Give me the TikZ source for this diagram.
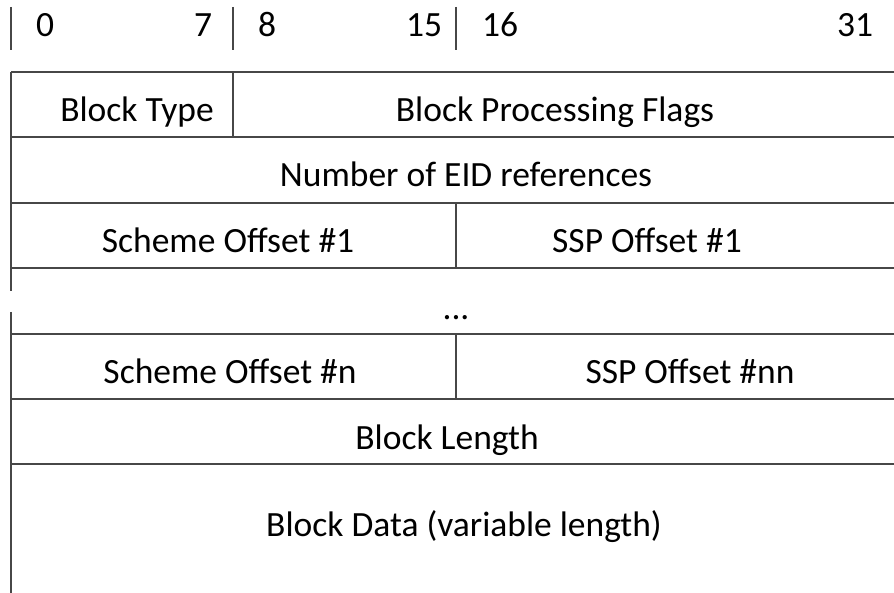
\documentclass[tikz,border=0pt]{standalone}
\usepackage{fontspec}
\setmainfont{Carlito}
\begin{document}
\begin{tikzpicture}[x=1pt,y=-1pt,
  rule/.style={draw=black!72,line width=1.4pt},
  lbl/.style={anchor=base,inner sep=0pt,font=\fontsize{35.5}{42}\selectfont}]
\useasboundingbox (0,0) rectangle (894,593);
% header ticks
\draw[rule] (11,7) -- (11,50);
\draw[rule] (233,7) -- (233,50);
\draw[rule] (456,7) -- (456,50);
\node[lbl] (b0) at (45,37) {0};
\node[lbl] (b7) at (203,37) {7};
\node[lbl] (b8) at (267,37) {8};
\node[lbl] (b15) at (424,37) {15};
\node[lbl] (b16) at (500,37) {16};
\node[lbl] (b31) at (855,37) {31};
% horizontal rules
\foreach \y in {72,137,203,268,334,399,464}
  \draw[rule] (11,\y) -- (894,\y);
% left border with gap
\draw[rule] (11,72) -- (11,291);
\draw[rule] (11,312) -- (11,593);
% inner verticals
\draw[rule] (233,72) -- (233,137);
\draw[rule] (456,203) -- (456,268);
\draw[rule] (456,334) -- (456,399);
% labels
\node[lbl] (bt) at (137,122) {Block Type};
\node[lbl] (bpf) at (555,122) {Block Processing Flags};
\node[lbl] (eid) at (466,187) {Number of EID references};
\node[lbl] (so1) at (228,253) {Scheme Offset \#1};
\node[lbl] (ssp1) at (647,253) {SSP Offset \#1};
\node[lbl] (dots) at (456,320) {...};
\node[lbl] (son) at (230,384) {Scheme Offset \#n};
\node[lbl] (sspn) at (690,384) {SSP Offset \#nn};
\node[lbl] (bl) at (447,449) {Block Length};
\node[lbl] (bd) at (464,536) {Block Data (variable length)};
\end{tikzpicture}
\end{document}
